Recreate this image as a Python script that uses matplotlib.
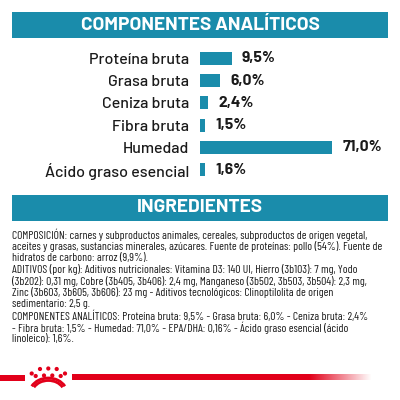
import matplotlib
matplotlib.use("Agg")
import matplotlib.pyplot as plt
from matplotlib import font_manager
from matplotlib.patches import Rectangle, Circle, Arc
import numpy as np

# ---------------- data ----------------
categories = ["Proteína bruta", "Grasa bruta", "Ceniza bruta", "Fibra bruta",
              "Humedad", "Ácido graso esencial"]
values = [9.5, 6.0, 2.4, 1.5, 71.0, 1.6]
value_labels = ["9,5%", "6,0%", "2,4%", "1,5%", "71,0%", "1,6%"]
title_top = "COMPONENTES ANALÍTICOS"
title_bottom = "INGREDIENTES"
body_lines = [
    "COMPOSICIÓN: carnes y subproductos animales, cereales, subproductos de origen vegetal,",
    "aceites y grasas, sustancias minerales, azúcares. Fuente de proteínas: pollo (54%). Fuente de",
    "hidratos de carbono: arroz (9,9%).",
    "ADITIVOS (por kg): Aditivos nutricionales: Vitamina D3: 140 UI, Hierro (3b103): 7 mg, Yodo",
    "(3b202): 0,31 mg, Cobre (3b405, 3b406): 2,4 mg, Manganeso (3b502, 3b503, 3b504): 2,3 mg,",
    "Zinc (3b603, 3b605, 3b606): 23 mg - Aditivos tecnológicos: Clinoptilolita de origen",
    "sedimentario: 2,5 g.",
    "COMPONENTES ANALÍTICOS: Proteína bruta: 9,5% - Grasa bruta: 6,0% - Ceniza bruta: 2,4%",
    "- Fibra bruta: 1,5% - Humedad: 71,0% - EPA/DHA: 0,16% - Ácido graso esencial (ácido",
    "linoleico): 1,6%.",
]

BLUE = "#1a8cab"
RED = "#e2001a"
TXT = "#1a1a1a"

avail = {f.name for f in font_manager.fontManager.ttflist}
def pick(cands):
    for c in cands:
        if c in avail:
            return c
    return "DejaVu Sans"
head_font = pick(["Barlow", "Barlow Semi Condensed", "Roboto"])
label_font = pick(["Barlow", "Roboto"])
body_font = pick(["Barlow Condensed", "Roboto Condensed", "Barlow Semi Condensed",
                  "Liberation Sans Narrow"])

W, H = 400, 400
fig = plt.figure(figsize=(4, 4), dpi=100)
bg = fig.add_axes([0, 0, 1, 1])
bg.set_xlim(0, W)
bg.set_ylim(H, 0)
bg.axis("off")
fig.canvas.draw()
r = fig.canvas.get_renderer()

def fit_size(text, target_px, **kw):
    t = bg.text(0, 0, text, fontsize=10, **kw)
    w = t.get_window_extent(r).width
    t.remove()
    return 10 * target_px / w

# headers
bg.add_patch(Rectangle((12, 12), 376, 26, color=BLUE, lw=0))
fs_t = fit_size(title_top, 240, fontweight="bold", family=[head_font, "DejaVu Sans"])
bg.text(200, 25.5, title_top, color="white", ha="center", va="center",
        fontsize=fs_t, fontweight="bold", family=[head_font, "DejaVu Sans"])
bg.add_patch(Rectangle((12, 194.5), 376, 26.5, color=BLUE, lw=0))
bg.text(200, 208, title_bottom, color="white", ha="center", va="center",
        fontsize=fs_t, fontweight="bold", family=[head_font, "DejaVu Sans"])

# body text, scaled to width of reference
fs = fit_size(body_lines[0], 354, family=[body_font, "DejaVu Sans"])
y0, dy = 235.0, 11.55
for i, line in enumerate(body_lines):
    bg.text(12, y0 + i * dy, line, fontsize=fs, color=TXT, ha="left", va="center",
            family=[body_font, "DejaVu Sans"])

# red line with logo
bg.add_patch(Rectangle((0, 374.5), 25, 6, color=RED, lw=0))
grad = np.zeros((1, 300, 4))
rgb = matplotlib.colors.to_rgb(RED)
grad[..., 0], grad[..., 1], grad[..., 2] = rgb
xs = np.linspace(72, 372, 300)
grad[0, :, 3] = np.clip((372 - xs) / 62.0, 0, 1)
bg.imshow(grad, extent=(72, 372, 380.5, 374.5), aspect="auto", interpolation="bilinear")
bg.set_xlim(0, W)
bg.set_ylim(H, 0)
dots = [(40, 369), (48.3, 368.5), (56.7, 369), (31.7, 373.5), (65, 373.5),
        (35.7, 376), (44, 375.5), (52.3, 375.5), (60.7, 376)]
for (cx, cy) in dots:
    bg.add_patch(Circle((cx, cy), 2.1, color=RED, lw=0))
for rr in [16, 13.5]:
    bg.add_patch(Arc((48.3, 394), 2 * rr + 6, 2 * rr, theta1=205, theta2=335,
                     color=RED, lw=2.0))

# bar chart
px_per_unit = 3.33
ax_left, ax_right = 200, 332
top, bottom = 47, 181
ax = fig.add_axes([ax_left / W, 1 - bottom / H, (ax_right - ax_left) / W, (bottom - top) / H])
xmax = (ax_right - ax_left) / px_per_unit
ypos = np.arange(len(categories))
ax.barh(ypos, values, height=0.58, color=BLUE, lw=0)
ax.set_xlim(0, xmax)
ax.set_ylim(len(categories) - 0.5, -0.5)
ax.set_yticks(ypos)
fs_l = fit_size(categories[0], 100, fontweight="medium", family=[label_font, "DejaVu Sans"])
ax.set_yticklabels(categories, fontsize=fs_l, color=TXT, family=[label_font, "DejaVu Sans"],
                   fontweight="medium")
ax.tick_params(axis="y", length=0, pad=8)
ax.set_xticks([])
for s in ax.spines.values():
    s.set_visible(False)
ax.patch.set_alpha(0)
fs_v = fit_size(value_labels[0], 34, fontweight="bold", family=[label_font, "DejaVu Sans"])
for y, v, lab in zip(ypos, values, value_labels):
    ax.annotate(lab, (min(v, xmax), y), xytext=(7.5, 0), textcoords="offset points",
                ha="left", va="center", fontsize=fs_v, fontweight="bold", color=TXT,
                family=[label_font, "DejaVu Sans"], annotation_clip=False)

fig.savefig("out.png", dpi=100)
